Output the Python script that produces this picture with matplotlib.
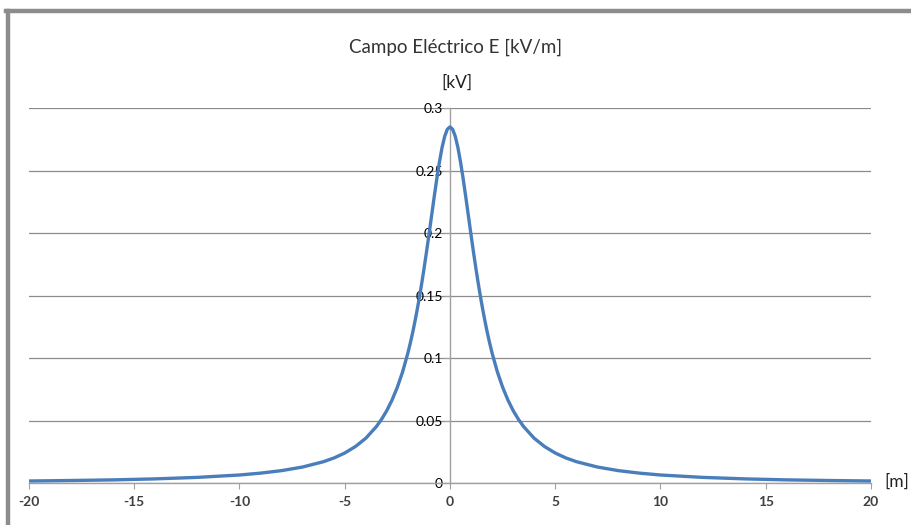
import numpy as np
import matplotlib.pyplot as plt
from matplotlib.lines import Line2D

# values (distance [m], field [kV/m]); symmetric about 0
x_right = [0, 0.125, 0.25, 0.375, 0.5, 0.625, 0.75, 0.875, 1, 1.125, 1.25,
           1.375, 1.5, 1.625, 1.75, 1.875, 2, 2.25, 2.5, 2.75, 3, 3.25, 3.5,
           4, 4.5, 5, 5.5, 6, 7, 8, 9, 10, 12, 14, 16, 18, 20]
e_right = [0.2850, 0.2831, 0.2775, 0.2686, 0.2570, 0.2436, 0.2290, 0.2138,
           0.1986, 0.1838, 0.1697, 0.1564, 0.1441, 0.1327, 0.1222, 0.1127,
           0.1040, 0.0890, 0.0767, 0.0665, 0.0580, 0.0510, 0.0451, 0.0358,
           0.0291, 0.0240, 0.0201, 0.0171, 0.0128, 0.0099, 0.0079, 0.0064,
           0.0045, 0.0033, 0.0025, 0.0020, 0.0016]

x_m = [-v for v in x_right[:0:-1]] + x_right
e_kv = e_right[:0:-1] + e_right

x_ticks = [-20, -15, -10, -5, 0, 5, 10, 15, 20]
y_ticks = [0, 0.05, 0.1, 0.15, 0.2, 0.25, 0.3]
y_labels = ["0", "0.05", "0.1", "0.15", "0.2", "0.25", "0.3"]

plt.rcParams['font.family'] = ['Lato', 'DejaVu Sans']

fig = plt.figure(figsize=(9.12, 5.25), dpi=100)
ax = fig.add_axes([0.0318, 0.08, 0.9232, 0.714])

ax.plot(x_m, e_kv, color='#4a7ebb', lw=2.4, solid_joinstyle='round',
        solid_capstyle='butt', zorder=3)

ax.set_xlim(-20, 20)
ax.set_ylim(0, 0.3)
ax.set_xticks(x_ticks)
ax.set_xticklabels([str(t) for t in x_ticks], fontsize=10, color='#404040',
                   fontweight='bold')
ax.set_yticks(y_ticks)
ax.set_yticklabels(y_labels, fontsize=7.5, color='#505050')

ax.grid(axis='y', color='#8c8c8c', lw=0.9)
ax.set_axisbelow(True)

for s in ['top', 'right']:
    ax.spines[s].set_visible(False)
ax.spines['left'].set_position(('data', 0))
ax.spines['left'].set_color('#a0a0a0')
ax.spines['left'].set_linewidth(1.0)
ax.spines['bottom'].set_color('#a0a0a0')
ax.spines['bottom'].set_linewidth(1.0)
ax.tick_params(axis='x', direction='out', length=4, color='#a0a0a0', pad=5)
ax.tick_params(axis='y', direction='out', length=4, color='#a0a0a0', pad=1)

fig.text(0.499, 0.91, "Campo Eléctrico E [kV/m]", ha='center', va='center',
         fontsize=13.5, color='#333333')
fig.text(0.501, 0.842, "[kV]", ha='center', va='center', fontsize=12.5,
         color='#222222')
fig.text(0.983, 0.083, "[m]", ha='center', va='center', fontsize=12.5,
         color='#222222')

# grey frame on top and left
fig.add_artist(Line2D([0.0066, 1.0], [0.98, 0.98], color='#8c8c8c', lw=3.2))
fig.add_artist(Line2D([0.0088, 0.0088], [0.0, 0.98], color='#8c8c8c', lw=3.2))

fig.savefig('out.png', dpi=100)
